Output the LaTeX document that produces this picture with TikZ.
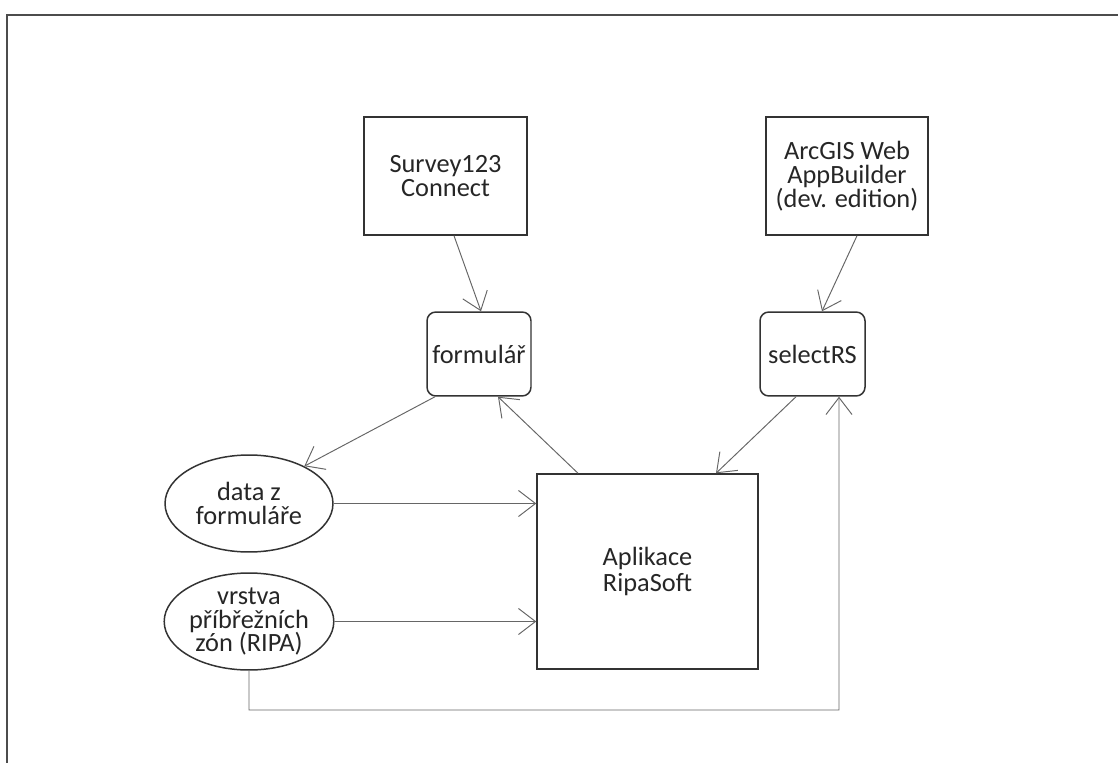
\documentclass[tikz,border=0pt]{standalone}
\usepackage{fontspec}
\setmainfont{Carlito}
\usetikzlibrary{arrows.meta,shapes.geometric}

\begin{document}
\begin{tikzpicture}[x=0.02cm,y=-0.02cm,
    txt/.style={align=center,font=\fontsize{15}{13.5}\selectfont,text=black!85},
    box/.style={txt,draw=black!80,line width=0.85pt,inner sep=0pt},
    rbox/.style={box,rounded corners=5pt},
    oval/.style={txt,ellipse,draw=black!80,line width=0.85pt,inner sep=0pt,
        minimum width=3.36cm,minimum height=1.94cm},
    link/.style={draw=black!60,line width=0.55pt,
        -{Straight Barb[length=0.34cm,width=0.52cm,line width=0.55pt]}}]
\useasboundingbox (0,0) rectangle (1118,763);
% frame, cut by the page on two sides
\draw[black!70,line width=1.1pt] (7,763) -- (7,15) -- (1118,15);

\node[box,minimum width=3.26cm,minimum height=2.36cm] (sur) at (445.5,176) {Survey123\\Connect};
\node[box,minimum width=3.24cm,minimum height=2.36cm] (arc) at (847,176) {ArcGIS Web\\AppBuilder\\(dev. edition)};
\node[rbox,minimum width=2.08cm,minimum height=1.68cm] (form) at (479,354) {formulář};
\node[rbox,minimum width=2.1cm,minimum height=1.68cm] (sel) at (812.5,354) {selectRS};
\node[oval] (data) at (249,503.5) {data z\\formuláře};
\node[oval] (vrs) at (249,621.5) {vrstva\\příbřežních\\zón (RIPA)};
\node[box,font=\fontsize{15}{15.3}\selectfont,minimum width=4.42cm,minimum height=3.9cm] (apl) at (647.5,571.5) {Aplikace\\RipaSoft};
\coordinate (loop) at (839,710);

\draw[link] ([xshift=0.17cm]sur.south) -- ([xshift=0.04cm]form.north);
\draw[link] ([xshift=0.2cm]arc.south) -- ([xshift=0.19cm]sel.north);
\draw[link] ([xshift=-0.88cm]form.south) -- (data.34);
\draw[link] ([xshift=-1.39cm]apl.north) -- ([xshift=0.38cm]form.south);
\draw[link] ([xshift=-0.33cm]sel.south) -- ([xshift=1.37cm]apl.north);
\draw[link] (data.east) -- (data.east -| apl.west);
\draw[link] (vrs.east) -- (vrs.east -| apl.west);
\draw[link] (vrs.south) |- (loop) -- ([xshift=0.53cm]sel.south);
\end{tikzpicture}
\end{document}
